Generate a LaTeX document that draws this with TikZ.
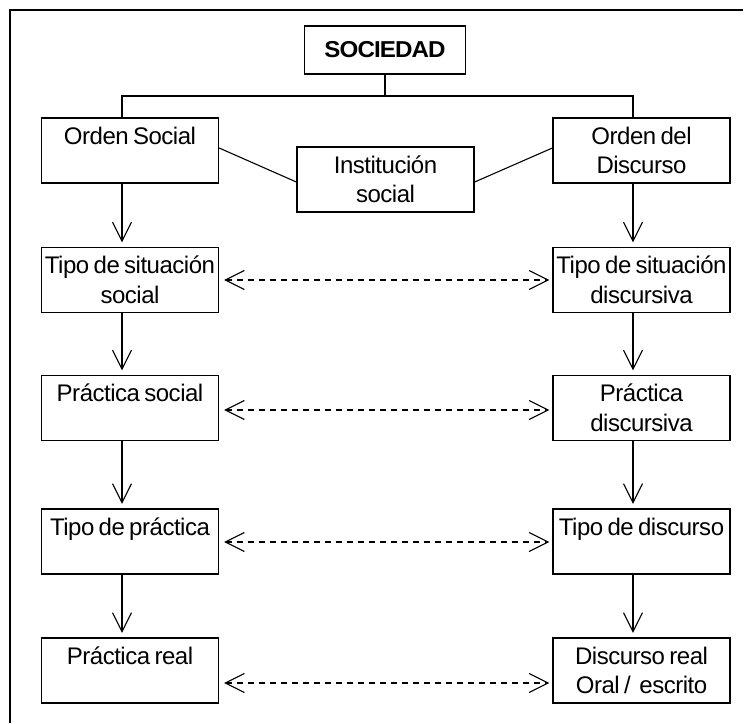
\documentclass[tikz,border=0pt]{standalone}
\usepackage{fontspec}
\setmainfont{Liberation Sans}[LetterSpace=-2,WordSpace=0.7]
\newfontfamily\headfont{Liberation Sans}[FakeStretch=1.05,LetterSpace=-4]
\usetikzlibrary{arrows.meta}
% text block of a box: lines hang from the top edge
\newcommand\boxlines[1]{\parbox[c][65pt][t]{177pt}{\centering\rule{0pt}{26pt}#1}}
\begin{document}
\begin{tikzpicture}[x=1pt,y=-1pt,
  every node/.style={font=\fontsize{24}{29.5}\selectfont},
  stage/.style={draw, line width=1.3pt, inner sep=0pt, minimum width=177pt, minimum height=65pt},
  topbox/.style={draw, line width=1.3pt, inner sep=0pt, minimum width=161pt, minimum height=48pt,
                 font=\headfont\fontsize{23}{26}\selectfont\bfseries},
  link/.style={line width=1.1pt},
  flow/.style={line width=1.1pt, -{Straight Barb[length=19pt,width=19pt,line width=1.1pt]}, shorten >=4.5pt},
  relate/.style={line width=1.1pt, dash pattern=on 6pt off 5pt,
                 {Straight Barb[length=19pt,width=19pt,line width=1.1pt]}-{Straight Barb[length=19pt,width=19pt,line width=1.1pt]},
                 shorten <=5pt, shorten >=3pt}
]
\useasboundingbox (0,0) rectangle (749,723);

% open frame: left and top edges
\draw[line width=2pt] (9.5,723) -- (9.5,9.5) -- (743,9.5);

% top of the hierarchy
\node[topbox] (soc) at (385,50) {SOCIEDAD};
\coordinate (bus) at (384,96);

% first level
\node[stage] (os) at (130,150.5) {\boxlines{Orden Social\\\mbox{}}};
\node[stage] (od) at (641.5,150.5) {\boxlines{Orden del\\Discurso}};
\node[stage] (inst) at (385.5,179.5) {\boxlines{Instituci\'on\\social}};

% social column
\node[stage] (ts) at (130,280) {\boxlines{Tipo de situaci\'on\\social}};
\node[stage] (ps) at (130,408) {\boxlines{Pr\'actica social\\\mbox{}}};
\node[stage] (tp) at (130,541.5) {\boxlines{Tipo de pr\'actica\\\mbox{}}};
\node[stage] (pr) at (130,670.5) {\boxlines{Pr\'actica real\\\mbox{}}};

% discourse column
\node[stage] (td) at (641.5,280) {\boxlines{Tipo de situaci\'on\\discursiva}};
\node[stage] (pd) at (641.5,408) {\boxlines{Pr\'actica\\discursiva}};
\node[stage] (tdi) at (641.5,541.5) {\boxlines{Tipo de discurso\\\mbox{}}};
\node[stage] (dr) at (641.5,670.5) {\boxlines{Discurso real\\Oral /\ \ escrito}};

% tree from SOCIEDAD to both orders
\draw[link] (soc.south) -- (soc.south |- bus);
\draw[link] ([xshift=-8pt]os.north) -- ([xshift=-8pt]os.north |- bus)
  -- ([xshift=-8.5pt]od.north |- bus) -- ([xshift=-8.5pt]od.north);

% both orders meet in the institution
\draw[link] ([yshift=2.5pt]os.east) -- ([yshift=-2.5pt]inst.west);
\draw[link] ([yshift=-2.5pt]inst.east) -- ([yshift=2.5pt]od.west);

% downward flows
\draw[flow] ([xshift=-8pt]os.south) -- ([xshift=-8pt]ts.north);
\draw[flow] ([xshift=-8pt]ts.south) -- ([xshift=-8pt]ps.north);
\draw[flow] ([xshift=-8pt]ps.south) -- ([xshift=-8pt]tp.north);
\draw[flow] ([xshift=-8pt]tp.south) -- ([xshift=-8pt]pr.north);
\draw[flow] ([xshift=-8.5pt]od.south) -- ([xshift=-8.5pt]td.north);
\draw[flow] ([xshift=-8.5pt]td.south) -- ([xshift=-8.5pt]pd.north);
\draw[flow] ([xshift=-8.5pt]pd.south) -- ([xshift=-8.5pt]tdi.north);
\draw[flow] ([xshift=-8.5pt]tdi.south) -- ([xshift=-8.5pt]dr.north);

% correspondences between the columns
\draw[relate] (ts.east) -- (td.west);
\draw[relate] ([yshift=-2pt]ps.east) -- ([yshift=-2pt]pd.west);
\draw[relate] ([yshift=-0.5pt]tp.east) -- ([yshift=-0.5pt]tdi.west);
\draw[relate] ([yshift=-12.5pt]pr.east) -- ([yshift=-12.5pt]dr.west);
\end{tikzpicture}
\end{document}
